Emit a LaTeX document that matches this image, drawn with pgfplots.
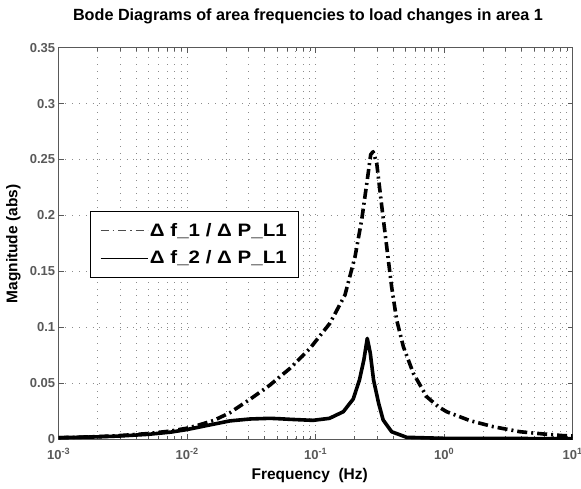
\documentclass[border=0pt]{standalone}
\usepackage{fontspec}
\setmainfont{Liberation Sans}
\newfontfamily\legfont[FakeStretch=1.14]{Liberation Sans}
\usepackage{pgfplots}
\pgfplotsset{compat=1.18}
\begin{document}
\begin{tikzpicture}[x=1pt,y=1pt]
\begin{axis}[
  at={(0,0)}, anchor=south west,
  scale only axis, width=514pt, height=391.3pt,
  xmode=log, xmin=1e-3, xmax=10, ymin=0, ymax=0.35,
  xtick={0.001,0.01,0.1,1,10},
  xticklabels={{10\textsuperscript{-3}},{10\textsuperscript{-2}},{10\textsuperscript{-1}},{10\textsuperscript{0}},{10\textsuperscript{1}}},
  ytick={0,0.05,0.1,0.15,0.2,0.25,0.3,0.35},
  yticklabels={0,0.05,0.1,0.15,0.2,0.25,0.3,0.35},
  ticklabel style={font=\bfseries\fontsize{13}{15}\selectfont, text=black!65},
  xticklabel style={yshift=-6pt},
  tick align=inside, major tick length=5pt, minor tick length=3pt,
  tick style={black!65, line width=0.5pt},
  axis line style={black!65, line width=0.8pt},
  grid=both,
  major grid style={dash pattern=on 0.8pt off 6pt, black!45, line width=0.7pt},
  minor grid style={dash pattern=on 0.8pt off 6pt, black!45, line width=0.7pt},
  legend style={at={(0.0609,0.5834)}, anchor=north west, draw=black, line width=0.8pt,
    font=\legfont\bfseries\fontsize{18}{20}\selectfont, inner xsep=10pt, inner ysep=10pt,
    row sep=9pt},
  legend cell align=left,
  legend image code/.code={\draw[#1] (0pt,0pt) -- (47pt,0pt);},
]
\addplot[black, line width=3.6pt, dash pattern=on 10pt off 4pt on 2pt off 4pt, line join=round, forget plot] coordinates {
(0.001,0.0011) (0.002,0.0021) (0.003,0.0031) (0.005,0.0049) (0.0075,0.0072)
(0.01,0.0097) (0.0119,0.012) (0.016,0.0165) (0.0215,0.0235) (0.0308,0.0355)
(0.0441,0.0483) (0.0631,0.0632) (0.0903,0.0811) (0.129,0.1035) (0.169,0.1288)
(0.2023,0.163) (0.228,0.196) (0.252,0.2317) (0.268,0.2545)
(0.280,0.257) (0.2985,0.2466) (0.327,0.2078) (0.357,0.172) (0.390,0.136)
(0.427,0.1064) (0.481,0.0826) (0.575,0.0588) (0.731,0.0378) (0.90,0.0289)
(1.045,0.0244) (1.59,0.0164) (2.41,0.011) (3.89,0.0065) (5.9,0.0045)
(8.45,0.003) (10,0.0028)
};
\addplot[black, line width=3.6pt, line join=round, forget plot] coordinates {
(0.001,0.0012) (0.002,0.0019) (0.003,0.0027) (0.005,0.0042) (0.0075,0.0062)
(0.01,0.0085) (0.0215,0.0162) (0.0308,0.0179) (0.0441,0.0185) (0.0527,0.0181)
(0.063,0.0176) (0.09,0.0168) (0.0958,0.0167) (0.128,0.0185) (0.164,0.0244)
(0.196,0.0358) (0.219,0.0528) (0.237,0.0707) (0.252,0.090) (0.266,0.0767)
(0.282,0.0528) (0.309,0.0319) (0.335,0.017) (0.39,0.0065) (0.51,0.0015)
(1,0.0006) (10,0.0003)
};
\addlegendimage{black!70, line width=0.6pt, dash pattern=on 8pt off 4pt on 1.5pt off 4pt}
\addlegendentry{Δ f\_1 / Δ P\_L1}
\addlegendimage{black, line width=0.6pt}
\addlegendentry{Δ f\_2 / Δ P\_L1}
\end{axis}
\node[font=\bfseries\fontsize{16.2}{18}\selectfont] at (249.3,423) {Bode Diagrams of area frequencies to load changes in area 1};
\node[font=\bfseries\fontsize{15.5}{18}\selectfont, anchor=base] at (251,-40) {Frequency\ \ (Hz)};
\node[font=\bfseries\fontsize{15.5}{18}\selectfont, rotate=90] at (-45.2,195) {Magnitude (abs)};
\pgfresetboundingbox
\path (-58.7,-49) rectangle (522.3,439);
\end{tikzpicture}
\end{document}
